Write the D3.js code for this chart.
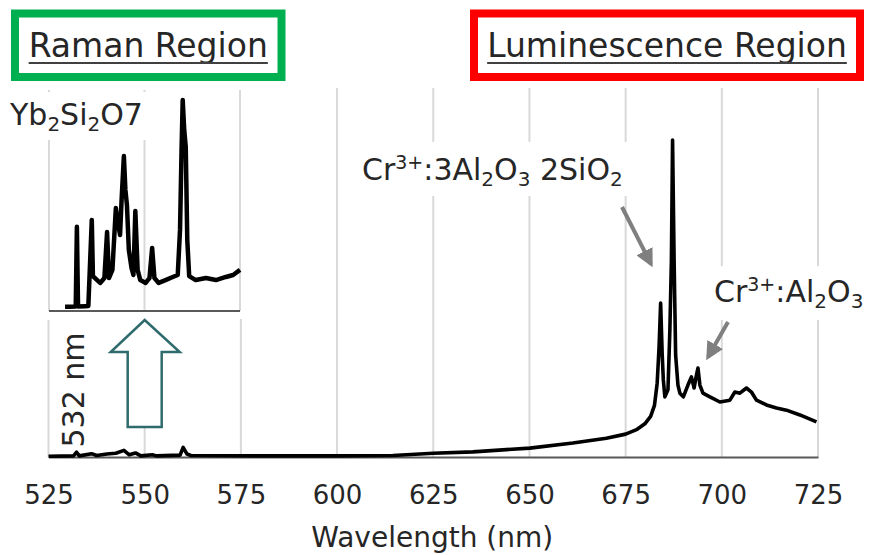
<!DOCTYPE html>
<html>
<head>
<meta charset="utf-8">
<script src="https://cdn.jsdelivr.net/npm/d3@7"></script>
<style>
  html, body { margin: 0; padding: 0; background: #fff; }
  svg { display: block; font-family: "DejaVu Sans", sans-serif; }
</style>
</head>
<body>
<svg id="chart" width="873" height="555"></svg>
<script>
// Full emission spectrum under 532 nm excitation: [wavelength nm, intensity (a.u.)]
const spectrumWavelength = [
  525, 531.5, 532.3, 533, 536.2, 537.5, 540.2, 542.5, 544.6, 546, 547.6, 549, 552, 553,
  559.2, 560, 561, 562, 580, 600, 614.5, 625, 635.3, 650.1, 661.3, 670, 675, 678,
  680, 681.5, 682.5, 683.2, 683.7, 684.1, 684.5, 684.8, 685.2, 686.0, 686.5, 686.9,
  687.2, 687.6, 688.0, 688.6, 689.1, 690.0, 691.2, 692.1, 692.8, 693.4, 693.8, 694.3,
  695.1, 696.9, 699.5, 702.1, 703.4, 704.7, 706.4, 707.7, 709.0, 711.6, 714.2, 716.8,
  720.3, 724.6
];
const spectrumIntensity = [
  0.2, 0.3, 1.3, 0.3, 0.9, 0.4, 0.8, 1.0, 1.8, 0.6, 1.1, 0.3, 0.6, 0.3,
  0.5, 2.6, 0.8, 0.4, 0.3, 0.3, 0.4, 1.0, 1.4, 2.4, 3.8, 5.1, 6.2, 7.5,
  9.0, 11.0, 14.0, 20.0, 30.0, 41.7, 28.0, 20.9, 16.3, 18.2, 34.4, 53.4,
  85.9, 53.4, 27.6, 19.5, 17.3, 16.3, 19.5, 21.7, 18.7, 22.2, 24.1, 19.5,
  17.3, 16.3, 14.9, 15.4, 17.6, 17.3, 18.7, 17.6, 15.4, 14.1, 13.3, 12.7,
  11.4, 9.5
];

// Magnified Raman region of Yb2Si2O7 (inset): [wavelength nm, intensity (a.u.)]
const ramanWavelength = [
  529.2, 530.5, 532.0, 532.3, 532.6, 534.5, 535.3, 535.6, 536.2, 536.5, 537.6, 538.4,
  539.5, 540.2, 540.7, 541.6, 542.5, 542.9, 543.6, 544.0, 544.6, 545.0, 545.4, 545.9,
  546.6, 547.1, 547.6, 548.2, 548.9, 550.3, 551.3, 552.0, 552.6, 553.7, 555.5, 557.4,
  558.7, 559.3, 559.7, 560.0, 560.4, 560.8, 561.2, 561.7, 563.4, 566.1, 568.7, 571.3,
  573.2, 575.0
];
const ramanIntensity = [
  1.9, 1.9, 2.0, 38.1, 2.0, 2.2, 2.3, 15.4, 41.2, 15.8, 14.0, 12.7,
  14.9, 35.7, 14.9, 18.6, 46.6, 41.2, 34.4, 50.2, 70.1, 54.8, 48.0, 27.6,
  19.5, 16.3, 45.2, 18.6, 14.0, 12.7, 14.9, 28.5, 14.9, 12.7, 14.0, 15.4,
  16.3, 36.7, 72.9, 95.5, 81.9, 74.2, 32.1, 15.8, 14.0, 14.9, 14.0, 15.4,
  16.3, 18.6
];

const xTicks = [525, 550, 575, 600, 625, 650, 675, 700, 725];
const insetTicks = [525, 550, 575];

const spectrum = spectrumWavelength.map((w, i) => ({ w, v: spectrumIntensity[i] }));
const raman = ramanWavelength.map((w, i) => ({ w, v: ramanIntensity[i] }));

const svg = d3.select("#chart");
const textColor = "#262626";
const gridColor = "#d9d9d9";
const axisColor = "#595959";

// ---------- main plot ----------
const x = d3.scaleLinear().domain([525, 725]).range([48.5, 818]);
const y = d3.scaleLinear().domain([0, 100]).range([457, 88]);

// vertical gridlines
svg.append("g").selectAll("line").data(xTicks.slice(1)).join("line")
  .attr("x1", d => x(d)).attr("x2", d => x(d))
  .attr("y1", y(100)).attr("y2", y(0))
  .attr("stroke", gridColor).attr("stroke-width", 2);
svg.append("line")
  .attr("x1", x(525)).attr("x2", x(525)).attr("y1", 320).attr("y2", y(0))
  .attr("stroke", gridColor).attr("stroke-width", 2);

// x axis
const xAxis = svg.append("g")
  .attr("transform", `translate(0,${y(0)})`)
  .call(d3.axisBottom(x).tickValues(xTicks).tickSize(0).tickPadding(29).tickFormat(d3.format("d")));
xAxis.select(".domain").attr("stroke", axisColor).attr("stroke-width", 2.2);
xAxis.selectAll("text")
  .attr("fill", textColor)
  .style("font-size", "26px")
  .style("font-family", "'DejaVu Sans', sans-serif");

svg.append("text")
  .attr("x", (x(525) + x(725)) / 2 - 1).attr("y", 547)
  .attr("text-anchor", "middle")
  .attr("fill", textColor)
  .style("font-size", "28px")
  .text("Wavelength (nm)");

// spectrum line
const line = d3.line().x(d => x(d.w)).y(d => y(d.v));
svg.append("path").datum(spectrum)
  .attr("d", line)
  .attr("fill", "none").attr("stroke", "#000")
  .attr("stroke-width", 3.6).attr("stroke-linejoin", "round");

// ---------- inset (Raman region) ----------
const xi = d3.scaleLinear().domain([525, 575]).range([49, 240]);
const yi = d3.scaleLinear().domain([0, 100]).range([311, 90]);

svg.append("rect")
  .attr("x", 40).attr("y", 88).attr("width", 206).attr("height", 231)
  .attr("fill", "#fff");
svg.append("g").selectAll("line").data(insetTicks).join("line")
  .attr("x1", d => xi(d)).attr("x2", d => xi(d))
  .attr("y1", yi(100)).attr("y2", yi(0))
  .attr("stroke", gridColor).attr("stroke-width", 2);
svg.append("line")
  .attr("x1", xi(525)).attr("x2", xi(575))
  .attr("y1", yi(0)).attr("y2", yi(0))
  .attr("stroke", axisColor).attr("stroke-width", 2.2);

const insetLine = d3.line().x(d => xi(d.w)).y(d => yi(d.v));
svg.append("path").datum(raman)
  .attr("d", insetLine)
  .attr("fill", "none").attr("stroke", "#000")
  .attr("stroke-width", 4.5).attr("stroke-linejoin", "round");

// sample label with white backing
svg.append("rect").attr("x", 0).attr("y", 92).attr("width", 152).attr("height", 48).attr("fill", "#fff");
const yb = svg.append("text").attr("x", 10).attr("y", 125).attr("fill", textColor).style("font-size", "30px");
yb.append("tspan").text("Yb");
yb.append("tspan").attr("dy", 6).style("font-size", "20px").text("2");
yb.append("tspan").attr("dy", -6).text("Si");
yb.append("tspan").attr("dy", 6).style("font-size", "20px").text("2");
yb.append("tspan").attr("dy", -6).text("O7");

// excitation wavelength label
svg.append("text")
  .attr("transform", "translate(84,390) rotate(-90)")
  .attr("text-anchor", "middle")
  .attr("fill", textColor)
  .style("font-size", "30px")
  .text("532 nm");

// hollow up-arrow pointing at the inset
const tipX = x(550);
const arrowPts = [
  [tipX, 320], [tipX + 35, 352], [tipX + 17, 352], [tipX + 17, 427],
  [tipX - 17, 427], [tipX - 17, 352], [tipX - 34, 352]
];
svg.append("polygon")
  .attr("points", arrowPts.map(p => p.join(",")).join(" "))
  .attr("fill", "#fff").attr("stroke", "#2f6a6c").attr("stroke-width", 2.5);

// ---------- peak annotations ----------
const defs = svg.append("defs");
defs.append("marker")
  .attr("id", "head").attr("viewBox", "0 0 10 10")
  .attr("refX", 8).attr("refY", 5)
  .attr("markerWidth", 4.5).attr("markerHeight", 4.5)
  .attr("orient", "auto")
  .append("path").attr("d", "M0,0 L10,5 L0,10 Z").attr("fill", "#7f7f7f");

svg.append("line")
  .attr("x1", 622).attr("y1", 207).attr("x2", 651).attr("y2", 264)
  .attr("stroke", "#7f7f7f").attr("stroke-width", 4).attr("marker-end", "url(#head)");
svg.append("line")
  .attr("x1", 728).attr("y1", 322).attr("x2", 708).attr("y2", 357)
  .attr("stroke", "#7f7f7f").attr("stroke-width", 4).attr("marker-end", "url(#head)");

// mullite label
svg.append("rect").attr("x", 356).attr("y", 142).attr("width", 282).attr("height", 54).attr("fill", "#fff");
const mul = svg.append("text").attr("x", 362).attr("y", 180).attr("fill", textColor).style("font-size", "30px");
mul.append("tspan").text("Cr");
mul.append("tspan").attr("dy", -11).style("font-size", "19px").text("3+");
mul.append("tspan").attr("dy", 11).text(":3Al");
mul.append("tspan").attr("dy", 6).style("font-size", "20px").text("2");
mul.append("tspan").attr("dy", -6).text("O");
mul.append("tspan").attr("dy", 6).style("font-size", "20px").text("3");
mul.append("tspan").attr("dy", -6).text(" 2SiO");
mul.append("tspan").attr("dy", 6).style("font-size", "20px").text("2");

// ruby label
svg.append("rect").attr("x", 710).attr("y", 266).attr("width", 163).attr("height", 54).attr("fill", "#fff");
const rub = svg.append("text").attr("x", 714).attr("y", 302).attr("fill", textColor).style("font-size", "30px");
rub.append("tspan").text("Cr");
rub.append("tspan").attr("dy", -11).style("font-size", "19px").text("3+");
rub.append("tspan").attr("dy", 11).text(":Al");
rub.append("tspan").attr("dy", 6).style("font-size", "20px").text("2");
rub.append("tspan").attr("dy", -6).text("O");
rub.append("tspan").attr("dy", 6).style("font-size", "20px").text("3");

// ---------- region headers ----------
function regionBox(x0, x1, color, label) {
  svg.append("rect")
    .attr("x", x0).attr("y", 13.5).attr("width", x1 - x0).attr("height", 63.5)
    .attr("fill", "#fff").attr("stroke", color).attr("stroke-width", 8);
  const t = svg.append("text")
    .attr("x", (x0 + x1) / 2).attr("y", 57)
    .attr("text-anchor", "middle")
    .attr("fill", textColor)
    .style("font-size", "33px")
    .text(label);
  const bb = t.node().getBBox();
  svg.append("line")
    .attr("x1", bb.x).attr("x2", bb.x + bb.width)
    .attr("y1", 63).attr("y2", 63)
    .attr("stroke", "#404040").attr("stroke-width", 2.2);
}
regionBox(15, 281.5, "#00b050", "Raman Region");
regionBox(474, 860, "#ff0000", "Luminescence Region");
</script>
</body>
</html>
